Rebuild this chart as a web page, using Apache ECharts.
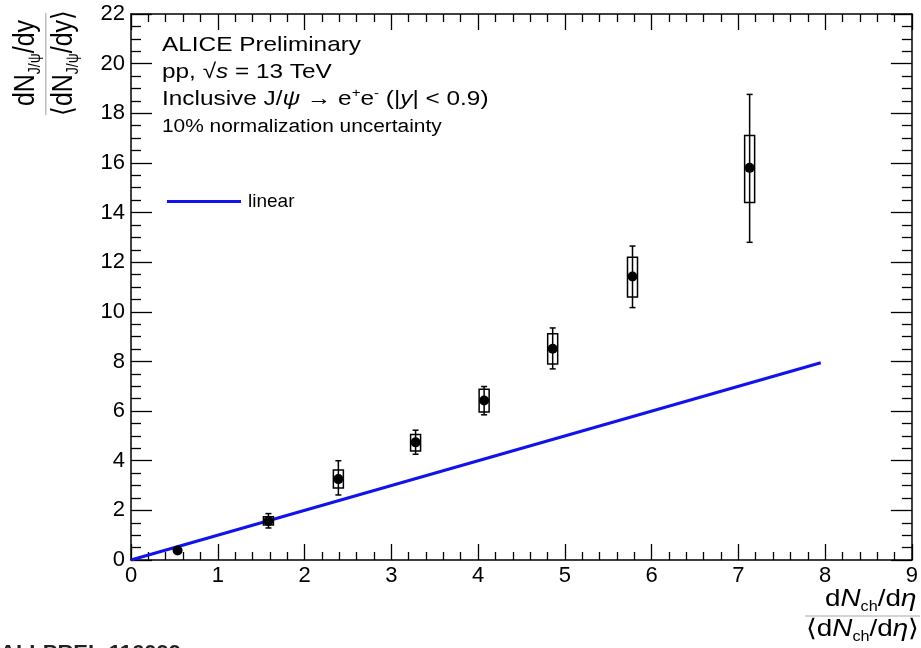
<!DOCTYPE html>
<html>
<head>
<meta charset="utf-8">
<script src="https://cdn.jsdelivr.net/npm/echarts@6/dist/echarts.min.js"></script>
<style>
  html, body { margin: 0; padding: 0; background: #fff; }
  #chart { width: 921px; height: 648px; }
</style>
</head>
<body>
<div id="chart"></div>
<script>
// ---- data ----
const xVals  = [0.537, 1.584, 2.39, 3.28, 4.07, 4.86, 5.78, 7.13];
const yVals  = [0.38, 1.57, 3.26, 4.74, 6.43, 8.51, 11.42, 15.80];
const statLo = [0.38, 1.29, 2.62, 4.26, 5.85, 7.70, 10.17, 12.80];
const statHi = [0.38, 1.87, 4.00, 5.23, 6.99, 9.35, 12.65, 18.76];
const sysLo  = [0.38, 1.41, 2.90, 4.39, 5.96, 7.90, 10.60, 14.40];
const sysHi  = [0.38, 1.74, 3.63, 5.06, 6.88, 9.12, 12.20, 17.10];
const lineX  = [0, 7.95];
const lineY  = [0, 7.95];
const xTicks = { min: 0, max: 9, interval: 1 };
const yTicks = { min: 0, max: 22, interval: 2 };

const FONT = 'Liberation Sans';
const chart = echarts.init(document.getElementById('chart'), null, { renderer: 'canvas' });

function axisCommon(showLabel, majorLen, minorLen, minorSplit) {
  return {
    axisLine: { show: true, onZero: false, lineStyle: { color: '#000', width: 1.5 } },
    axisTick: { show: true, inside: true, length: majorLen, lineStyle: { color: '#000', width: 1.3 } },
    minorTick: { show: true, splitNumber: minorSplit, length: minorLen, lineStyle: { color: '#000', width: 1.3 } },
    splitLine: { show: false },
    minorSplitLine: { show: false },
    axisLabel: { show: showLabel, color: '#000', fontFamily: FONT, fontSize: 22 }
  };
}

const xBottom = Object.assign({ type: 'value', position: 'bottom', min: xTicks.min, max: xTicks.max, interval: xTicks.interval }, axisCommon(true, 16, 8, 5));
xBottom.axisLabel.margin = 5;
const xTop = Object.assign({ type: 'value', position: 'top', min: xTicks.min, max: xTicks.max, interval: xTicks.interval }, axisCommon(false, 16, 8, 5));
const yLeft = Object.assign({ type: 'value', position: 'left', min: yTicks.min, max: yTicks.max, interval: yTicks.interval }, axisCommon(true, 21, 10, 4));
yLeft.axisLabel.margin = 6;
const yRight = Object.assign({ type: 'value', position: 'right', min: yTicks.min, max: yTicks.max, interval: yTicks.interval }, axisCommon(false, 21, 10, 4));

const sysData = xVals.map((x, i) => [x, sysLo[i], sysHi[i]]);
const statData = xVals.map((x, i) => [x, statLo[i], statHi[i]]);
const pointData = xVals.map((x, i) => [x, yVals[i]]);
const lineData = lineX.map((x, i) => [x, lineY[i]]);

const mainRich = {
  r: { fontFamily: FONT, fontSize: 21, lineHeight: 26, fill: '#000' },
  i: { fontFamily: FONT, fontSize: 21, lineHeight: 26, fontStyle: 'italic', fill: '#000' },
  sup: { fontFamily: FONT, fontSize: 13, lineHeight: 14, verticalAlign: 'top', fill: '#000' }
};
const titleRich = {
  r: { fontFamily: FONT, fontSize: 24, lineHeight: 30, fill: '#000' },
  i: { fontFamily: FONT, fontSize: 24, lineHeight: 30, fontStyle: 'italic', fill: '#000' },
  sub: { fontFamily: FONT, fontSize: 14, lineHeight: 12, verticalAlign: 'bottom', fill: '#000' }
};
const yTitleRich = {
  r: { fontFamily: FONT, fontSize: 25, lineHeight: 30, fill: '#000' },
  sub: { fontFamily: FONT, fontSize: 14, lineHeight: 12, verticalAlign: 'bottom', fill: '#000' }
};

const option = {
  backgroundColor: '#fff',
  animation: false,
  grid: { left: 131, right: 8, top: 14, bottom: 88, containLabel: false },
  xAxis: [xBottom, xTop],
  yAxis: [yLeft, yRight],
  legend: {
    data: [{ name: 'linear', icon: 'rect' }],
    left: 167, top: 192, padding: 0,
    itemWidth: 74, itemHeight: 3,
    textStyle: { fontFamily: FONT, fontSize: 19, color: '#000', padding: [0, 0, 0, 2] }
  },
  series: [
    {
      name: 'linear', type: 'line', xAxisIndex: 0, yAxisIndex: 0,
      data: lineData, showSymbol: false, symbol: 'none',
      lineStyle: { color: '#1212ee', width: 3 }, itemStyle: { color: '#1212ee' },
      z: 2
    },
    {
      name: 'sys', type: 'custom', xAxisIndex: 0, yAxisIndex: 0, data: sysData, z: 3,
      renderItem: function (params, api) {
        const x = api.value(0), lo = api.value(1), hi = api.value(2);
        if (hi - lo <= 0) return null;
        const pHi = api.coord([x, hi]);
        const pLo = api.coord([x, lo]);
        return {
          type: 'rect',
          shape: { x: pHi[0] - 5, y: pHi[1], width: 10, height: pLo[1] - pHi[1] },
          style: { fill: 'none', stroke: '#000', lineWidth: 1.5 }
        };
      }
    },
    {
      name: 'stat', type: 'custom', xAxisIndex: 0, yAxisIndex: 0, data: statData, z: 4,
      renderItem: function (params, api) {
        const x = api.value(0), lo = api.value(1), hi = api.value(2);
        if (hi - lo <= 0) return null;
        const pHi = api.coord([x, hi]);
        const pLo = api.coord([x, lo]);
        const st = { stroke: '#000', lineWidth: 1.5 };
        return {
          type: 'group',
          children: [
            { type: 'line', shape: { x1: pHi[0], y1: pHi[1], x2: pLo[0], y2: pLo[1] }, style: st },
            { type: 'line', shape: { x1: pHi[0] - 3, y1: pHi[1], x2: pHi[0] + 3, y2: pHi[1] }, style: st },
            { type: 'line', shape: { x1: pLo[0] - 3, y1: pLo[1], x2: pLo[0] + 3, y2: pLo[1] }, style: st }
          ]
        };
      }
    },
    {
      name: 'points', type: 'scatter', xAxisIndex: 0, yAxisIndex: 0, data: pointData,
      symbol: 'circle', symbolSize: 10, itemStyle: { color: '#000', opacity: 1 }, z: 5
    }
  ],
  graphic: [
    {
      type: 'group', x: 162, y: 0, scaleX: 1.16,
      children: [
        { type: 'text', x: 0, y: 45.5, style: { text: '{r|ALICE Preliminary}', rich: mainRich, textVerticalAlign: 'middle' } },
        { type: 'text', x: 0, y: 72.5, style: { text: '{r|pp, √}{i|s}{r| = 13 TeV}', rich: mainRich, textVerticalAlign: 'middle' } },
        { type: 'text', x: 0, y: 99.5, style: { text: '{r|Inclusive J/}{i|ψ}{r| → e}{sup|+}{r|e}{sup|-}{r| (|}{i|y}{r|| < 0.9)}', rich: mainRich, textVerticalAlign: 'middle' } },
        { type: 'text', x: 0, y: 127.5, style: { text: '10% normalization uncertainty', fontFamily: FONT, fontSize: 18, fill: '#000', textVerticalAlign: 'middle' } }
      ]
    },
    {
      type: 'group', x: 0, y: 63, rotation: Math.PI / 2, scaleY: 1.16,
      children: [
        { type: 'text', x: 0, y: 22.5, style: { text: '{r|dN}{sub|J/ψ}{r|/dy}', rich: yTitleRich, textAlign: 'center', textVerticalAlign: 'middle' } },
        { type: 'line', shape: { x1: -52, y1: 39.5, x2: 50, y2: 39.5 }, style: { stroke: '#aaa', lineWidth: 1 } },
        { type: 'text', x: 0, y: 55.5, style: { text: '{r|⟨dN}{sub|J/ψ}{r|/dy⟩}', rich: yTitleRich, textAlign: 'center', textVerticalAlign: 'middle' } }
      ]
    },
    {
      type: 'group', x: 866, y: 0, scaleX: 1.16,
      children: [
        { type: 'text', x: 4, y: 599, style: { text: '{r|d}{i|N}{sub|ch}{r|/d}{i|η}', rich: titleRich, textAlign: 'center', textVerticalAlign: 'middle' } },
        { type: 'line', shape: { x1: -52.5, y1: 616, x2: 46.5, y2: 616 }, style: { stroke: '#aaa', lineWidth: 1 } },
        { type: 'text', x: -3, y: 629, style: { text: '{r|⟨d}{i|N}{sub|ch}{r|/d}{i|η}{r|⟩}', rich: titleRich, textAlign: 'center', textVerticalAlign: 'middle' } }
      ]
    },
    {
      type: 'text', x: 0, y: 643, scaleX: 1.1,
      style: { text: 'ALI-PREL-116099', fontFamily: FONT, fontSize: 20, fontWeight: 'bold', fill: '#222', textVerticalAlign: 'top' }
    }
  ]
};
chart.setOption(option);
</script>
</body>
</html>
